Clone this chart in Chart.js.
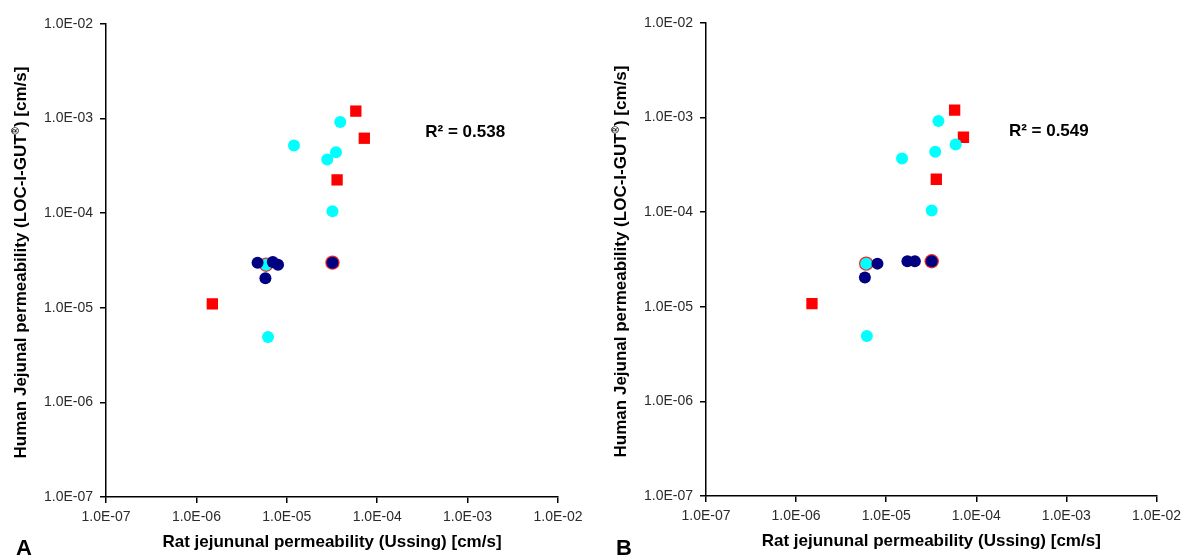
<!DOCTYPE html>
<html lang="en">
<head>
    <meta charset="UTF-8">
    <title>Rat vs human jejunal permeability</title>
    <script src="https://cdn.jsdelivr.net/npm/chart.js"></script>
    <style>
        body {
            margin: 0;
            background: #ffffff;
            font-family: 'Liberation Sans', Arial, sans-serif;
        }

        .page {
            position: relative;
            width: 1187px;
            height: 557px;
            overflow: hidden;
        }

        .panel {
            position: absolute;
            top: 0;
        }

        #panelA { left: 0; }
        #panelB { left: 600px; top: -1px; }

        .letter {
            position: absolute;
            top: 537px;
            font-size: 22px;
            line-height: 22px;
            font-weight: bold;
            color: #000;
        }
    </style>
</head>
<body>
    <div class="page">
        <div class="panel" id="panelA"><canvas id="chartA" width="600" height="557"></canvas></div>
        <div class="panel" id="panelB"><canvas id="chartB" width="587" height="557"></canvas></div>
        <div class="letter" style="left:16px">A</div>
        <div class="letter" style="left:616px">B</div>
    </div>

    <script>
        // Axis ticks (both axes, both panels)
        const tickValues = [1e-7, 1e-6, 1e-5, 1e-4, 1e-3, 1e-2];
        const tickLabels = ['1.0E-07', '1.0E-06', '1.0E-05', '1.0E-04', '1.0E-03', '1.0E-02'];

        const xTitle = 'Rat jejununal permeability (Ussing) [cm/s]';
        const yTitleParts = ['Human Jejunal permeability (LOC-I-GUT', '\u00AE', ') [cm/s]'];

        // Panel A
        const redXA = [5.8e-5, 7.2e-5, 3.6e-5, 1.5e-6];
        const redYA = [1.2e-3, 6.2e-4, 2.25e-4, 1.1e-5];
        const cyanXA = [3.9e-5, 1.2e-5, 3.5e-5, 2.8e-5, 3.2e-5, 6.2e-6, 5.9e-6];
        const cyanYA = [9.2e-4, 5.2e-4, 4.4e-4, 3.7e-4, 1.05e-4, 4.9e-6, 2.85e-5];
        const navyXA = [4.75e-6, 7.0e-6, 8.0e-6, 5.8e-6, 3.2e-5];
        const navyYA = [3.0e-5, 3.05e-5, 2.85e-5, 2.05e-5, 3.0e-5];
        const ringXA = [5.9e-6, 3.2e-5];
        const ringYA = [2.85e-5, 3.0e-5];
        const r2TextA = 'R\u00B2 = 0.538';
        const r2AtA = [3.4e-4, 7.1e-4];

        // Panel B
        const redXB = [5.75e-5, 7.2e-5, 3.6e-5, 1.5e-6];
        const redYB = [1.2e-3, 6.2e-4, 2.23e-4, 1.08e-5];
        const cyanXB = [3.8e-5, 5.9e-5, 3.5e-5, 1.5e-5, 3.2e-5, 6.1e-6, 6.0e-6];
        const cyanYB = [9.2e-4, 5.2e-4, 4.35e-4, 3.7e-4, 1.04e-4, 4.9e-6, 2.86e-5];
        const navyXB = [8.0e-6, 1.72e-5, 2.08e-5, 3.2e-5, 5.8e-6];
        const navyYB = [2.86e-5, 3.03e-5, 3.03e-5, 3.03e-5, 2.04e-5];
        const ringXB = [6.0e-6, 3.2e-5];
        const ringYB = [2.86e-5, 3.03e-5];
        const r2TextB = 'R\u00B2 = 0.549';
        const r2AtB = [2.3e-4, 7.15e-4];

        const FONT = "'Liberation Sans', Arial, sans-serif";

        function pts(xs, ys) {
            return xs.map((x, i) => ({ x: x, y: ys[i] }));
        }

        function logAxis(pad, extra) {
            return Object.assign({
                type: 'logarithmic',
                min: 1e-7,
                max: 1e-2,
                afterBuildTicks: s => { s.ticks = tickValues.map(v => ({ value: v })); },
                ticks: {
                    callback: (v, i) => tickLabels[i],
                    font: { family: FONT, size: 14 },
                    color: '#2a2a2a',
                    autoSkip: false,
                    maxRotation: 0,
                    padding: pad
                },
                grid: { drawOnChartArea: false, color: '#000', lineWidth: 1.5, tickLength: 6 },
                border: { color: '#000', width: 1.5 }
            }, extra);
        }

        // draws the rotated y title (with superscript ®) and the R² label
        const textPlugin = {
            id: 'texts',
            afterDraw(chart, args, opts) {
                const ctx = chart.ctx;
                const area = chart.chartArea;
                ctx.save();
                ctx.fillStyle = '#000';
                ctx.textBaseline = 'middle';
                ctx.textAlign = 'left';

                const big = 'bold 17px ' + FONT;
                const small = 'bold 10px ' + FONT;
                ctx.font = big;
                const w0 = ctx.measureText(yTitleParts[0]).width;
                const w2 = ctx.measureText(yTitleParts[2]).width;
                ctx.font = small;
                const w1 = ctx.measureText(yTitleParts[1]).width;
                const total = w0 + w1 + w2;

                ctx.translate(21, (area.top + area.bottom) / 2 + 2);
                ctx.rotate(-Math.PI / 2);
                let x = -total / 2;
                ctx.font = big;
                ctx.fillText(yTitleParts[0], x, 0);
                x += w0;
                ctx.font = small;
                ctx.fillText(yTitleParts[1], x, -5);
                x += w1;
                ctx.font = big;
                ctx.fillText(yTitleParts[2], x, 0);
                ctx.restore();

                ctx.save();
                ctx.fillStyle = '#000';
                ctx.font = 'bold 17px ' + FONT;
                ctx.textBaseline = 'middle';
                ctx.textAlign = 'left';
                ctx.fillText(opts.text, chart.scales.x.getPixelForValue(opts.at[0]),
                    chart.scales.y.getPixelForValue(opts.at[1]));
                ctx.restore();
            }
        };

        function makeChart(id, d, rightPad) {
            return new Chart(document.getElementById(id), {
                type: 'scatter',
                data: {
                    datasets: [
                        { data: pts(d.navyX, d.navyY), backgroundColor: '#000080', pointRadius: 6, borderWidth: 0, order: 0 },
                        { data: pts(d.cyanX, d.cyanY), backgroundColor: '#00ffff', pointRadius: 6, borderWidth: 0, order: 1 },
                        { data: pts(d.ringX, d.ringY), backgroundColor: '#f02a2a', pointRadius: 7.2, borderWidth: 0, order: 2 },
                        { data: pts(d.redX, d.redY), backgroundColor: '#ff0000', pointStyle: 'rect', pointRadius: 8, borderWidth: 0, order: 3 }
                    ]
                },
                options: {
                    responsive: false,
                    animation: false,
                    events: [],
                    layout: { padding: { top: 24, right: rightPad, left: 0, bottom: 0 } },
                    plugins: {
                        legend: { display: false },
                        tooltip: { enabled: false },
                        texts: { text: d.r2Text, at: d.r2At }
                    },
                    scales: {
                        x: logAxis(6, {
                            position: 'bottom',
                            afterFit: s => { s.height = 60; },
                            title: {
                                display: true,
                                text: xTitle,
                                color: '#000',
                                font: { family: FONT, size: 17, weight: 'bold' },
                                padding: { top: 0, bottom: 4 }
                            }
                        }),
                        y: logAxis(7, {
                            position: 'left',
                            afterFit: s => { s.width = 106; }
                        })
                    }
                },
                plugins: [textPlugin]
            });
        }

        makeChart('chartA', {
            redX: redXA, redY: redYA, cyanX: cyanXA, cyanY: cyanYA,
            navyX: navyXA, navyY: navyYA, ringX: ringXA, ringY: ringYA,
            r2Text: r2TextA, r2At: r2AtA
        }, 42);

        makeChart('chartB', {
            redX: redXB, redY: redYB, cyanX: cyanXB, cyanY: cyanYB,
            navyX: navyXB, navyY: navyYB, ringX: ringXB, ringY: ringYB,
            r2Text: r2TextB, r2At: r2AtB
        }, 28);
    </script>
</body>
</html>
